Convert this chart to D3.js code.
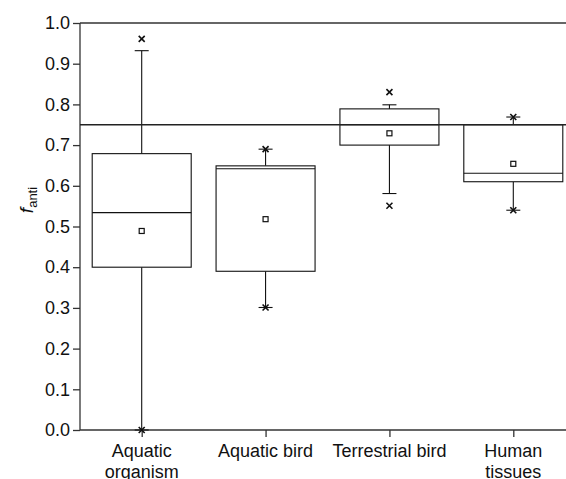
<!DOCTYPE html>
<html>
<head>
<meta charset="utf-8">
<script src="https://cdn.jsdelivr.net/npm/d3@7"></script>
<style>
  body { margin: 0; background: #fff; }
  text { font-family: Arial, "Liberation Sans", sans-serif; }
</style>
</head>
<body>
<div id="chart"></div>
<script>
const width = 566;
const height = 479;

// DATA
const groups = ["Aquatic organism", "Aquatic bird", "Terrestrial bird", "Human tissues"];
const q1 = [0.40, 0.39, 0.70, 0.61];
const median = [0.534, 0.642, 0.75, 0.631];
const q3 = [0.679, 0.649, 0.789, 0.75];
const means = [0.489, 0.518, 0.729, 0.654];
const whiskLow = [0.0, 0.301, 0.581, 0.54];
const whiskHigh = [0.932, 0.69, 0.799, 0.769];
const minMark = [0.0, 0.301, 0.551, 0.54];
const maxMark = [0.961, 0.69, 0.830, 0.769];
const refLine = 0.75;
const yTicks = [0, 0.1, 0.2, 0.3, 0.4, 0.5, 0.6, 0.7, 0.8, 0.9, 1.0];

const margin = { left: 80, right: 0, top: 23, bottom: 49 };

const svg = d3
  .select("#chart")
  .append("svg")
  .attr("width", width)
  .attr("height", height);

const y = d3.scaleLinear().domain([0, 1]).range([height - margin.bottom, margin.top]);
const x = d3
  .scalePoint()
  .domain(groups)
  .range([141.7, 513.3]);

const boxW = 99;
const capW = 14;

// axes
const yAxis = svg
  .append("g")
  .attr("transform", `translate(${margin.left},0)`)
  .call(d3.axisLeft(y).tickValues(yTicks).tickFormat(d3.format(".1f")).tickSize(7).tickPadding(3));
yAxis.select(".domain").remove();
yAxis.selectAll("text").attr("font-size", 18).attr("fill", "#111");
yAxis.selectAll("line").attr("stroke", "#333").attr("stroke-width", 1.3);

const xAxis = svg
  .append("g")
  .attr("transform", `translate(0,${y(0)})`)
  .call(d3.axisBottom(x).tickSize(7).tickFormat(""));
xAxis.select(".domain").remove();
xAxis.selectAll("line").attr("stroke", "#333").attr("stroke-width", 1.3);

// frame lines
svg.append("line")
  .attr("x1", margin.left).attr("x2", width)
  .attr("y1", y(0)).attr("y2", y(0))
  .attr("stroke", "#333").attr("stroke-width", 1.3);
svg.append("line")
  .attr("x1", margin.left).attr("x2", width)
  .attr("y1", y(1)).attr("y2", y(1))
  .attr("stroke", "#333").attr("stroke-width", 1.3);
svg.append("line")
  .attr("x1", margin.left).attr("x2", margin.left)
  .attr("y1", y(0)).attr("y2", y(1))
  .attr("stroke", "#333").attr("stroke-width", 1.3);

// x labels
groups.forEach((g) => {
  const lines = g === "Aquatic bird" || g === "Terrestrial bird" ? [g] : g.split(" ");
  const t = svg.append("text")
    .attr("x", x(g))
    .attr("y", 457)
    .attr("text-anchor", "middle")
    .attr("font-size", 18)
    .attr("fill", "#111");
  lines.forEach((l, i) => {
    t.append("tspan").attr("x", x(g)).attr("dy", i === 0 ? 0 : 21).text(l);
  });
});

// y label
const yl = svg.append("text")
  .attr("transform", `translate(33,200) rotate(-90)`)
  .attr("text-anchor", "middle")
  .attr("font-size", 19)
  .attr("fill", "#111");
yl.append("tspan").attr("font-style", "italic").text("f");
yl.append("tspan").attr("font-size", 13).attr("dy", 4).text("anti");

// boxes
const boxes = svg.append("g").attr("stroke", "#111").attr("stroke-width", 1.1).attr("fill", "none");

groups.forEach((g, i) => {
  const cx = x(g);
  // whiskers
  boxes.append("line").attr("x1", cx).attr("x2", cx).attr("y1", y(q3[i])).attr("y2", y(whiskHigh[i]));
  boxes.append("line").attr("x1", cx).attr("x2", cx).attr("y1", y(q1[i])).attr("y2", y(whiskLow[i]));
  [whiskHigh[i], whiskLow[i]].forEach((v) => {
    boxes.append("line")
      .attr("x1", cx - capW / 2).attr("x2", cx + capW / 2)
      .attr("y1", y(v)).attr("y2", y(v));
  });
  // box
  boxes.append("rect")
    .attr("x", cx - boxW / 2)
    .attr("y", y(q3[i]))
    .attr("width", boxW)
    .attr("height", y(q1[i]) - y(q3[i]))
    .attr("fill", "#fff");
  boxes.append("line")
    .attr("x1", cx - boxW / 2).attr("x2", cx + boxW / 2)
    .attr("y1", y(median[i])).attr("y2", y(median[i]));
  // mean
  boxes.append("rect")
    .attr("x", cx - 2.5).attr("y", y(means[i]) - 2.5)
    .attr("width", 5).attr("height", 5)
    .attr("stroke-width", 1.2);
  // min / max markers
  [minMark[i], maxMark[i]].forEach((v) => {
    const py = y(v);
    boxes.append("path")
      .attr("d", `M${cx - 3},${py - 3}L${cx + 3},${py + 3}M${cx - 3},${py + 3}L${cx + 3},${py - 3}`)
      .attr("stroke-width", 1.6);
  });
});

// reference line
svg.append("line")
  .attr("x1", margin.left).attr("x2", width)
  .attr("y1", y(refLine)).attr("y2", y(refLine))
  .attr("stroke", "#222").attr("stroke-width", 1.3);
</script>
</body>
</html>
